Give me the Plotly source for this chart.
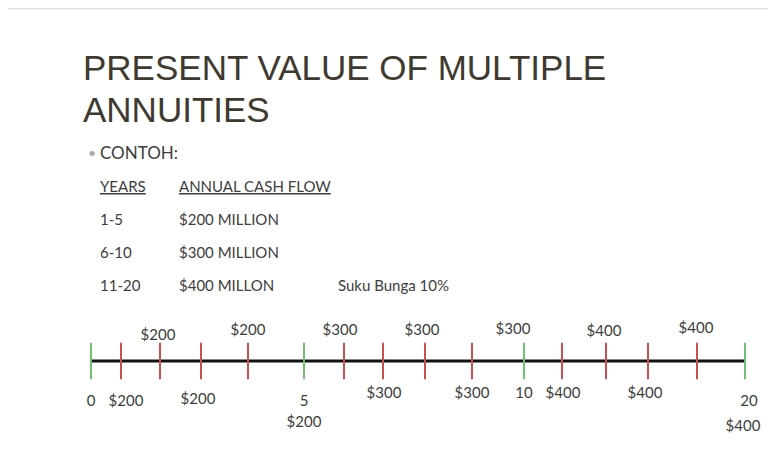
import plotly.graph_objects as go

# ---- data ----
title_lines = ["PRESENT VALUE OF MULTIPLE", "ANNUITIES"]
table_header = ["YEARS", "ANNUAL CASH FLOW"]
table_years = ["1-5", "6-10", "11-20"]
table_flows = ["$200 MILLION", "$300 MILLION", "$400 MILLON"]
rate_note = "Suku Bunga 10%"

# timeline tick positions (horizontal position along the slide) and kinds
tick_pos = [91, 121, 160, 201, 248, 304, 344, 383, 425, 472, 524, 562, 606, 648, 697, 745]
tick_is_period = [True, False, False, False, False, True, False, False, False, False, True,
                  False, False, False, False, True]

above_text = ["$200", "$200", "$300", "$300", "$300", "$400", "$400"]
above_x = [158, 248, 340, 422, 513, 604, 696]
above_y = [336, 331, 331, 331, 330, 332, 329]

below_text = ["0", "$200", "$200", "5", "$200", "$300", "$300", "10", "$400", "$400", "20", "$400"]
below_x = [91, 126, 198, 304, 304, 384, 472, 524, 563, 645, 749, 743]
below_y = [402, 402, 400, 402, 423, 394, 394, 394, 394, 394, 402, 427]

W, H = 776, 462
OFF = 8  # page body margin
LINE_Y = 361
FONT = "Lato, 'Noto Sans', sans-serif"
TXT = "#3d3d3d"

fig = go.Figure()

# main timeline line
fig.add_trace(go.Scatter(x=[tick_pos[0], tick_pos[-1]], y=[LINE_Y, LINE_Y], mode="lines",
                         line=dict(color="#111111", width=3), hoverinfo="skip"))

# ticks
gx = [p for p, k in zip(tick_pos, tick_is_period) if k]
rx = [p for p, k in zip(tick_pos, tick_is_period) if not k]
fig.add_trace(go.Scatter(x=rx, y=[LINE_Y] * len(rx), mode="markers",
                         marker=dict(symbol="line-ns", size=26, line=dict(color="#c9504f", width=2)),
                         hoverinfo="skip"))
fig.add_trace(go.Scatter(x=gx, y=[LINE_Y] * len(gx), mode="markers",
                         marker=dict(symbol="line-ns", size=26, line=dict(color="#72c173", width=2)),
                         hoverinfo="skip"))

# labels
fig.add_trace(go.Scatter(x=above_x, y=above_y, mode="text", text=above_text,
                         textfont=dict(family=FONT, size=15, color=TXT), hoverinfo="skip"))
fig.add_trace(go.Scatter(x=below_x, y=below_y, mode="text", text=below_text,
                         textfont=dict(family=FONT, size=15, color=TXT), hoverinfo="skip"))

ann = []
# title
for i, t in enumerate(title_lines):
    ann.append(dict(x=81, y=67 + i * 42, text=t, xanchor="left", yanchor="middle",
                    font=dict(family="'Liberation Sans', Arial", size=35, color="#3e3a30")))
# bullet
ann.append(dict(x=86, y=152, text="•", xanchor="left", yanchor="middle",
                font=dict(family=FONT, size=14, color="#b0a8b0")))
ann.append(dict(x=98, y=152, text="CONTOH:", xanchor="left", yanchor="middle",
                font=dict(family=FONT, size=17, color=TXT)))
# table
ann.append(dict(x=98, y=186, text="<u>%s</u>" % table_header[0], xanchor="left", yanchor="middle",
                font=dict(family=FONT, size=15, color=TXT)))
ann.append(dict(x=177, y=186, text="<u>%s</u>" % table_header[1], xanchor="left", yanchor="middle",
                font=dict(family=FONT, size=15, color=TXT)))
for i, (yr, fl) in enumerate(zip(table_years, table_flows)):
    yy = 219 + i * 33
    ann.append(dict(x=98, y=yy, text=yr, xanchor="left", yanchor="middle",
                    font=dict(family=FONT, size=15, color=TXT)))
    ann.append(dict(x=177, y=yy, text=fl, xanchor="left", yanchor="middle",
                    font=dict(family=FONT, size=15, color=TXT)))
ann.append(dict(x=336, y=285, text=rate_note, xanchor="left", yanchor="middle",
                font=dict(family=FONT, size=15, color=TXT)))
for a in ann:
    a.update(xref="x", yref="y", showarrow=False)

fig.update_layout(
    width=W - OFF, height=H - OFF, margin=dict(l=0, r=0, t=0, b=0),
    paper_bgcolor="white", plot_bgcolor="white", showlegend=False,
    xaxis=dict(range=[OFF, W], visible=False, fixedrange=True),
    yaxis=dict(range=[H, OFF], visible=False, fixedrange=True),
    annotations=ann,
    shapes=[dict(type="line", xref="x", yref="y", x0=OFF, x1=W, y0=OFF + 0.5, y1=OFF + 0.5,
                 line=dict(color="#e4e4e4", width=2))],
)

fig.write_html("out.html", config=dict(displayModeBar=False))
